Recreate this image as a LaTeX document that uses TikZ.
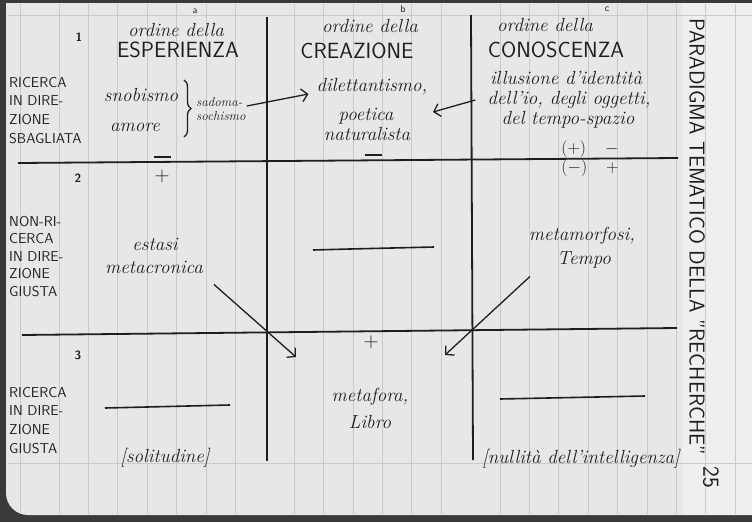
\documentclass[tikz,border=0pt]{standalone}
\usepackage{fontspec}
\usetikzlibrary{arrows.meta,decorations.pathreplacing}
\definecolor{inkc}{HTML}{1E1E1E}
\definecolor{paperc}{HTML}{E7E7E7}
\definecolor{rulec}{HTML}{CACACA}
\definecolor{bgc}{HTML}{3A3A3A}
\begin{document}
\begin{tikzpicture}[x=1pt,y=-1pt,
  ink/.style={draw=inkc, line width=1.8pt},
  rule/.style={draw=rulec, line width=0.8pt},
  hand/.style={font=\fontsize{19}{21}\selectfont\itshape, text=inkc, inner sep=0pt},
  smallhand/.style={font=\fontsize{13}{14}\selectfont\itshape, text=inkc, inner sep=0pt, align=left},
  caps/.style={font=\fontsize{22}{24}\selectfont\sffamily, text=inkc, inner sep=0pt},
  lab/.style={font=\fontsize{14.3}{18.7}\selectfont\sffamily, text=inkc, align=left, inner sep=0pt, anchor=north west},
  lab2/.style={lab, font=\fontsize{14.3}{17.5}\selectfont\sffamily},
  num/.style={font=\fontsize{12}{14}\selectfont\sffamily\bfseries, text=inkc, inner sep=0pt},
  letter/.style={font=\fontsize{10}{12}\selectfont\sffamily, text=inkc, inner sep=0pt},
  sign/.style={font=\fontsize{22}{24}\selectfont, text=inkc, inner sep=0pt, text height=6pt, text depth=0pt},
  bar/.style={fill=inkc, inner sep=0pt, minimum width=17pt, minimum height=1.8pt},
  psign/.style={font=\fontsize{19}{21}\selectfont, text=inkc, inner sep=0pt},
  arr/.style={draw=inkc, line width=1.3pt, -{Straight Barb[length=6pt,width=13pt]}},
  title/.style={font=\fontsize{21.5}{23}\selectfont\sffamily, text=inkc, inner sep=0pt, rotate=-90},
]
\useasboundingbox (0,0) rectangle (752,522);
% background and page
\fill[bgc] (0,0) rectangle (752,522);
\fill[paperc] (752,3) -- (6,3) -- (6,300) [rounded corners=22pt] -- (6,515) -- (300,515) [sharp corners] -- (752,515) -- cycle;
\fill[white, opacity=0.35] (682,3) rectangle (752,515);
% ruled lines
\foreach \x in {20,59,88.4,117.8,147.2,176.6,206,235.4,294.2,323.6,353,382.4,411.8,441.2,500,529.4,558.8,588.2,617.6,647,676.4,705.8,735}
  \draw[rule] (\x,4) -- (\x,514);
\draw[rule] (8,15) -- (752,15);
\draw[rule] (8,463) -- (752,463);

% grid of the table
\draw[ink] (267,17) -- (267,461);
\draw[ink] (471,15) -- (473,460);
\draw[ink] (18,163) -- (678,158);
\draw[ink] (22,335) -- (677,328);

% column letters and headings
\node[letter] (la) at (195,11) {a};
\node[letter] (lb) at (403,9) {b};
\node[letter] (lc) at (607,9) {c};
\node[hand] (oa) at (176,30) {ordine della};
\node[caps] (ea) at (178,50) {ESPERIENZA};
\node[hand] (ob) at (370,26) {ordine della};
\node[caps] (cb) at (357,51) {CREAZIONE};
\node[hand] (oc) at (545,25) {ordine della};
\node[caps] (cc) at (556,50) {CONOSCENZA};

% row numbers and labels
\node[num] (n1) at (79,37) {1};
\node[num] (n2) at (78,178) {2};
\node[num] (n3) at (78,355) {3};
\node[lab] (r1) at (9,77) {RICERCA\\IN DIRE-\\ZIONE\\SBAGLIATA};
\node[lab2] (r2) at (9,216) {NON-RI-\\CERCA\\IN DIRE-\\ZIONE\\GIUSTA};
\node[lab] (r3) at (9,387) {RICERCA\\IN DIRE-\\ZIONE\\GIUSTA};

% row 1
\node[hand] (snob) at (141,95) {snobismo};
\node[hand] (amore) at (135,127) {amore};
\draw[ink, line width=1.3pt, decorate, decoration={brace, amplitude=7pt}] (184,80) -- (184,137);
\node[smallhand, anchor=west] (sado) at (196,109) {sadoma-\\sochismo};
\node[hand] (dil) at (372,87) {dilettantismo,};
\node[hand] (poet) at (366,116) {poetica};
\node[hand] (natu) at (367,134) {naturalista};
\node[hand] (ill1) at (566,78) {illusione d'identità};
\node[hand] (ill2) at (569,100) {dell'io, degli oggetti,};
\node[hand] (ill3) at (568,120) {del tempo-spazio};
\coordinate (tipc) at (433,112);
\draw[arr] ([xshift=1pt,yshift=3pt]sado.east) -- ([xshift=-8pt,yshift=-7pt]dil.west);
\draw[arr] ([xshift=-12pt,yshift=0pt]ill2.west) -- (tipc);
\node[bar] (ma) at (162,157) {};
\node[bar] (mb) at (373,155) {};
\node[psign] (pc) at (590,149) {$(+)\quad-$};
\node[psign] (mc) at (590,168) {$(-)\quad+$};

% row 2
\node[sign] (pa) at (162,178.5) {$+$};
\node[hand] (est1) at (155,244) {estasi};
\node[hand] (est2) at (154,267) {metacronica};
\draw[ink, line width=1.6pt] (313,250) -- (350,249) -- (434,247);
\node[hand] (meta1) at (582,236) {metamorfosi,};
\node[hand] (tempo) at (584,260) {Tempo};

% row 3
\node[sign] (pb) at (371,344.5) {$+$};
\node[hand] (mf) at (370,397) {metafora,};
\node[hand] (libro) at (370,422) {Libro};
\draw[ink, line width=1.6pt] (105,408) -- (230,405);
\draw[ink, line width=1.6pt] (500,399) -- (645,396);
\node[hand] (sol) at (165,458) {[solitudine]};
\node[hand] (null) at (581,459) {[nullità dell'intelligenza]};
\coordinate (tipa) at (296,357);
\coordinate (tipb) at (445,355);
\draw[arr] ([xshift=11pt,yshift=-11pt]est2.south east) -- (tipa);
\draw[arr] ([xshift=-27pt,yshift=-8pt]tempo.south west) -- (tipb);

% vertical title
\node[title] (tt) at (697,237) {PARADIGMA TEMATICO DELLA "RECHERCHE"};
\node[title, font=\fontsize{23}{25}\selectfont\sffamily] (pg) at (711,477) {25};
\end{tikzpicture}
\end{document}
